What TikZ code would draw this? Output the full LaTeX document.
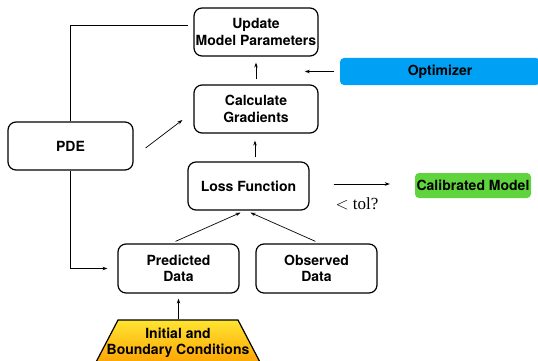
\documentclass[tikz,border=0pt]{standalone}
\usepackage{fontspec}
\setmainfont{TeX Gyre Heros}
\newfontfamily\serifed{Liberation Serif}
\usetikzlibrary{calc,arrows.meta}
\definecolor{optblue}{RGB}{0,160,245}
\definecolor{calgreen}{RGB}{95,212,60}
\definecolor{trapyellow}{RGB}{255,228,50}
\definecolor{traporange}{RGB}{255,160,0}
\tikzset{
  box/.style={draw, rounded corners=8pt, line width=1.2pt, minimum width=124pt,
    minimum height=48pt, align=center, inner sep=1pt, font=\fontsize{14}{16.5}\selectfont\bfseries},
  flat/.style={rounded corners=4pt, align=center, font=\fontsize{14}{16.5}\selectfont\bfseries},
  arr/.style={line width=0.7pt, -{Stealth[length=5pt,width=3.5pt]}},
  wire/.style={line width=0.7pt}
}
\begin{document}
\begin{tikzpicture}[x=1pt,y=-1pt]
\useasboundingbox (0,0) rectangle (538,361);
\clip (0,0) rectangle (538,361);

% process boxes
\node[box] (update) at (256,32) {Update\\Model Parameters};
\node[box] (calc) at (256,109) {Calculate\\Gradients};
\node[box, minimum width=121pt] (loss) at (248.5,186) {Loss Function};
\node[box, minimum width=125pt] (pde) at (70.5,146) {PDE};
\node[box, minimum width=121pt, minimum height=49pt] (pred) at (178.5,268.5) {Predicted\\Data};
\node[box, minimum width=121pt, minimum height=49pt] (obs) at (316.5,268.5) {Observed\\Data};

% coloured boxes
\node[flat, fill=optblue, minimum width=200pt, minimum height=27pt] (opt) at (440,71.5) {Optimizer};
\node[flat, fill=calgreen, minimum width=116pt, minimum height=25pt, inner sep=1pt] (cal) at (473,185.5) {Calibrated Model};

% initial and boundary conditions (trapezoid running off the bottom)
\shade[top color=trapyellow, bottom color=traporange, draw=black, line width=1.2pt]
  (118,320) -- (238,320) -- (262,366) -- (94,366) -- cycle;
\node[align=center, font=\fontsize{14}{16.5}\selectfont\bfseries] (init) at (178,343) {Initial and\\Boundary Conditions};

% tolerance label
\node[font=\serifed\fontsize{17}{20}\selectfont] (tol) at (357,204) {$<$ tol?};

% connectors
\coordinate (uend) at (188,25);
\draw[wire] (pde.north) |- (uend);
\draw[arr] (pde.south) |- ([xshift=-10pt]pred.west);
\draw[arr] ([xshift=12pt,yshift=-2pt]pde.east) -- ([xshift=-11pt,yshift=-11pt]calc.west);
\draw[arr] ([yshift=5pt]calc.north) -- ([yshift=-6pt]update.south);
\draw[arr] ($(calc.south |- loss.north)+(-1,-4)$) -- ([xshift=-1pt,yshift=-7pt]calc.south);
\draw[arr] ([xshift=-6pt]opt.west) -- ([xshift=-35pt]opt.west);
\draw[arr] ([xshift=-3pt,yshift=2pt]pred.north) -- ([xshift=-8pt,yshift=-2pt]loss.south);
\draw[arr] ([xshift=-1pt,yshift=2pt]obs.north) -- ([xshift=2pt,yshift=-2pt]loss.south);
\draw[arr] ([yshift=5pt]init.north -| pred.south) -- ([yshift=-5pt]pred.south);
\draw[arr] ([xshift=24pt,yshift=2pt]loss.east) -- ([xshift=-25pt,yshift=1.5pt]cal.west);
\end{tikzpicture}
\end{document}
